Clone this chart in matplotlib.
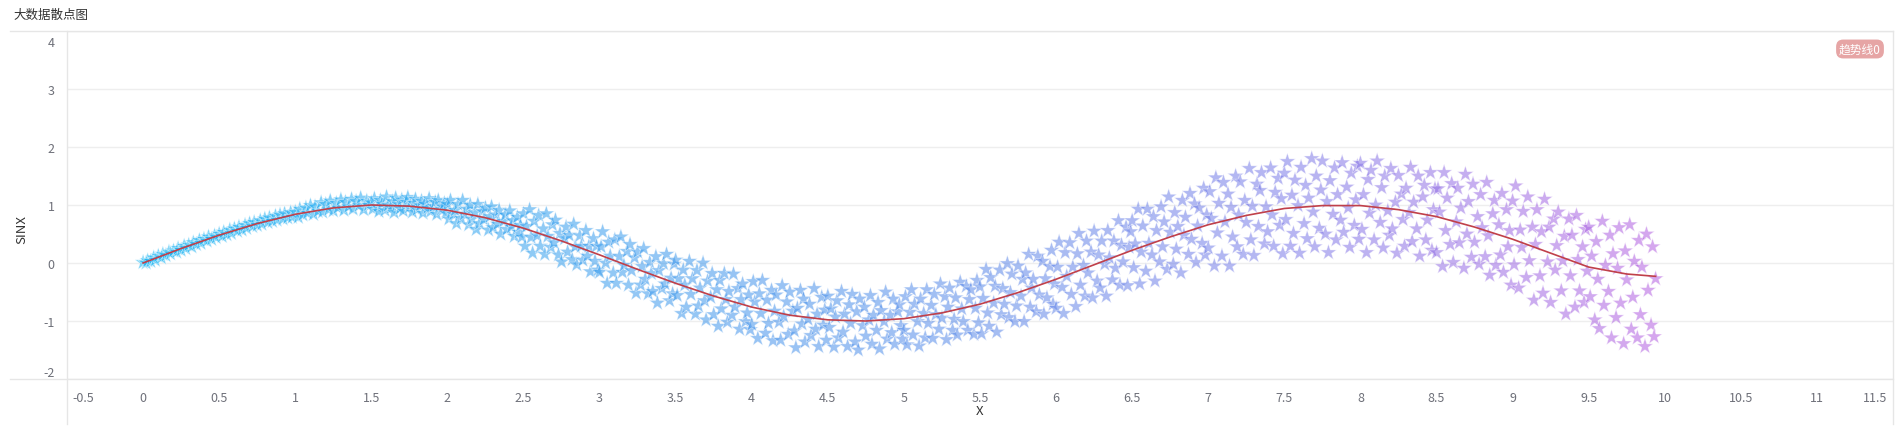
import matplotlib
matplotlib.use("Agg")
import matplotlib.pyplot as plt
import matplotlib.transforms as mtransforms
from matplotlib.colors import LinearSegmentedColormap
from matplotlib.lines import Line2D

plt.rcParams['font.family'] = ['Noto Sans CJK SC', 'DejaVu Sans']

TITLE = '大数据散点图'
LEGEND = '趋势线0'

# scatter points in strips of 0.5 on x (x row, then y row)
star_x = [
    0.00, 0.02, 0.03, 0.05, 0.07, 0.08, 0.10, 0.12, 0.13, 0.15, 0.17, 0.18, 0.20, 0.22, 0.23, 0.25, 0.27, 0.28, 0.30, 0.32, 0.33, 0.35, 0.37, 0.38, 0.40, 0.42, 0.43, 0.45, 0.47, 0.48,
    0.50, 0.52, 0.53, 0.55, 0.57, 0.58, 0.60, 0.62, 0.63, 0.65, 0.67, 0.68, 0.70, 0.72, 0.73, 0.75, 0.77, 0.78, 0.80, 0.82, 0.83, 0.85, 0.87, 0.88, 0.90, 0.92, 0.93, 0.95, 0.97, 0.98,
    1.00, 1.02, 1.03, 1.05, 1.07, 1.08, 1.10, 1.12, 1.13, 1.15, 1.17, 1.18, 1.20, 1.22, 1.23, 1.25, 1.27, 1.28, 1.30, 1.32, 1.33, 1.35, 1.37, 1.38, 1.40, 1.42, 1.43, 1.45, 1.47, 1.48,
    1.50, 1.51, 1.52, 1.54, 1.55, 1.56, 1.57, 1.59, 1.60, 1.61, 1.63, 1.64, 1.65, 1.66, 1.68, 1.69, 1.70, 1.71, 1.73, 1.74, 1.75, 1.77, 1.78, 1.79, 1.80, 1.82, 1.83, 1.84, 1.85, 1.87, 1.88, 1.89, 1.91, 1.92, 1.93, 1.94, 1.96, 1.97, 1.98, 1.99,
    2.00, 2.01, 2.02, 2.04, 2.05, 2.06, 2.07, 2.09, 2.10, 2.11, 2.13, 2.14, 2.15, 2.16, 2.18, 2.19, 2.20, 2.21, 2.23, 2.24, 2.25, 2.27, 2.28, 2.29, 2.30, 2.32, 2.33, 2.34, 2.35, 2.37, 2.38, 2.39, 2.41, 2.42, 2.43, 2.44, 2.46, 2.47, 2.48, 2.49,
    2.50, 2.51, 2.52, 2.54, 2.55, 2.56, 2.57, 2.59, 2.60, 2.61, 2.63, 2.64, 2.65, 2.66, 2.68, 2.69, 2.70, 2.71, 2.73, 2.74, 2.75, 2.77, 2.78, 2.79, 2.80, 2.82, 2.83, 2.84, 2.85, 2.87, 2.88, 2.89, 2.91, 2.92, 2.93, 2.94, 2.96, 2.97, 2.98, 2.99,
    3.00, 3.01, 3.02, 3.04, 3.05, 3.06, 3.07, 3.09, 3.10, 3.11, 3.13, 3.14, 3.15, 3.16, 3.18, 3.19, 3.20, 3.21, 3.23, 3.24, 3.25, 3.27, 3.28, 3.29, 3.30, 3.32, 3.33, 3.34, 3.35, 3.37, 3.38, 3.39, 3.41, 3.42, 3.43, 3.44, 3.46, 3.47, 3.48, 3.49,
    3.50, 3.51, 3.52, 3.54, 3.55, 3.56, 3.57, 3.59, 3.60, 3.61, 3.63, 3.64, 3.65, 3.66, 3.68, 3.69, 3.70, 3.71, 3.73, 3.74, 3.75, 3.77, 3.78, 3.79, 3.80, 3.82, 3.83, 3.84, 3.85, 3.87, 3.88, 3.89, 3.91, 3.92, 3.93, 3.94, 3.96, 3.97, 3.98, 3.99,
    4.00, 4.01, 4.02, 4.04, 4.05, 4.06, 4.07, 4.09, 4.10, 4.11, 4.13, 4.14, 4.15, 4.16, 4.18, 4.19, 4.20, 4.21, 4.23, 4.24, 4.25, 4.27, 4.28, 4.29, 4.30, 4.32, 4.33, 4.34, 4.35, 4.37, 4.38, 4.39, 4.41, 4.42, 4.43, 4.44, 4.46, 4.47, 4.48, 4.49,
    4.50, 4.51, 4.52, 4.54, 4.55, 4.56, 4.57, 4.59, 4.60, 4.61, 4.63, 4.64, 4.65, 4.66, 4.68, 4.69, 4.70, 4.71, 4.73, 4.74, 4.75, 4.77, 4.78, 4.79, 4.80, 4.82, 4.83, 4.84, 4.85, 4.87, 4.88, 4.89, 4.91, 4.92, 4.93, 4.94, 4.96, 4.97, 4.98, 4.99,
    5.00, 5.01, 5.02, 5.04, 5.05, 5.06, 5.07, 5.09, 5.10, 5.11, 5.13, 5.14, 5.15, 5.16, 5.18, 5.19, 5.20, 5.21, 5.23, 5.24, 5.25, 5.27, 5.28, 5.29, 5.30, 5.32, 5.33, 5.34, 5.35, 5.37, 5.38, 5.39, 5.41, 5.42, 5.43, 5.44, 5.46, 5.47, 5.48, 5.49,
    5.50, 5.51, 5.52, 5.54, 5.55, 5.56, 5.57, 5.59, 5.60, 5.61, 5.63, 5.64, 5.65, 5.66, 5.68, 5.69, 5.70, 5.71, 5.73, 5.74, 5.75, 5.77, 5.78, 5.79, 5.80, 5.82, 5.83, 5.84, 5.85, 5.87, 5.88, 5.89, 5.91, 5.92, 5.93, 5.94, 5.96, 5.97, 5.98, 5.99,
    6.00, 6.01, 6.02, 6.04, 6.05, 6.06, 6.07, 6.09, 6.10, 6.11, 6.13, 6.14, 6.15, 6.16, 6.18, 6.19, 6.20, 6.21, 6.23, 6.24, 6.25, 6.27, 6.28, 6.29, 6.30, 6.32, 6.33, 6.34, 6.35, 6.37, 6.38, 6.39, 6.41, 6.42, 6.43, 6.44, 6.46, 6.47, 6.48, 6.49,
    6.50, 6.51, 6.52, 6.54, 6.55, 6.56, 6.57, 6.59, 6.60, 6.61, 6.63, 6.64, 6.65, 6.66, 6.68, 6.69, 6.70, 6.71, 6.73, 6.74, 6.75, 6.77, 6.78, 6.79, 6.80, 6.82, 6.83, 6.84, 6.85, 6.87, 6.88, 6.89, 6.91, 6.92, 6.93, 6.94, 6.96, 6.97, 6.98, 6.99,
    7.00, 7.01, 7.02, 7.04, 7.05, 7.06, 7.07, 7.09, 7.10, 7.11, 7.13, 7.14, 7.15, 7.16, 7.18, 7.19, 7.20, 7.21, 7.23, 7.24, 7.25, 7.27, 7.28, 7.29, 7.30, 7.32, 7.33, 7.34, 7.35, 7.37, 7.38, 7.39, 7.41, 7.42, 7.43, 7.44, 7.46, 7.47, 7.48, 7.49,
    7.50, 7.51, 7.52, 7.54, 7.55, 7.56, 7.57, 7.59, 7.60, 7.61, 7.63, 7.64, 7.65, 7.66, 7.68, 7.69, 7.70, 7.71, 7.73, 7.74, 7.75, 7.77, 7.78, 7.79, 7.80, 7.82, 7.83, 7.84, 7.85, 7.87, 7.88, 7.89, 7.91, 7.92, 7.93, 7.94, 7.96, 7.97, 7.98, 7.99,
    8.00, 8.01, 8.02, 8.04, 8.05, 8.06, 8.07, 8.09, 8.10, 8.11, 8.13, 8.14, 8.15, 8.16, 8.18, 8.19, 8.20, 8.21, 8.23, 8.24, 8.25, 8.27, 8.28, 8.29, 8.30, 8.32, 8.33, 8.34, 8.35, 8.37, 8.38, 8.39, 8.41, 8.42, 8.43, 8.44, 8.46, 8.47, 8.48, 8.49,
    8.50, 8.51, 8.52, 8.54, 8.55, 8.56, 8.57, 8.59, 8.60, 8.61, 8.63, 8.64, 8.65, 8.66, 8.68, 8.69, 8.70, 8.71, 8.73, 8.74, 8.75, 8.77, 8.78, 8.79, 8.80, 8.82, 8.83, 8.84, 8.85, 8.87, 8.88, 8.89, 8.91, 8.92, 8.93, 8.94, 8.96, 8.97, 8.98, 8.99,
    9.00, 9.01, 9.02, 9.04, 9.05, 9.06, 9.07, 9.09, 9.10, 9.11, 9.13, 9.14, 9.15, 9.16, 9.18, 9.19, 9.20, 9.21, 9.23, 9.24, 9.25, 9.27, 9.28, 9.29, 9.30, 9.32, 9.33, 9.34, 9.35, 9.37, 9.38, 9.39, 9.41, 9.42, 9.43, 9.44, 9.46, 9.47, 9.48, 9.49,
    9.50, 9.51, 9.52, 9.54, 9.55, 9.56, 9.57, 9.59, 9.60, 9.61, 9.63, 9.64, 9.65, 9.66, 9.68, 9.69, 9.70, 9.71, 9.73, 9.74, 9.75, 9.77, 9.78, 9.79, 9.80, 9.82, 9.83, 9.84, 9.85, 9.87, 9.88, 9.89, 9.91, 9.92, 9.93, 9.94,
]
star_y = [
    0.01, 0.00, 0.04, 0.03, 0.09, 0.05, 0.12, 0.09, 0.15, 0.13, 0.19, 0.16, 0.21, 0.19, 0.25, 0.22, 0.29, 0.25, 0.31, 0.28, 0.35, 0.32, 0.39, 0.34, 0.41, 0.38, 0.45, 0.41, 0.47, 0.44,
    0.50, 0.46, 0.53, 0.49, 0.57, 0.51, 0.59, 0.55, 0.62, 0.57, 0.65, 0.60, 0.68, 0.63, 0.70, 0.65, 0.73, 0.67, 0.76, 0.70, 0.78, 0.72, 0.81, 0.74, 0.83, 0.76, 0.85, 0.78, 0.87, 0.79,
    0.88, 0.79, 0.93, 0.83, 0.95, 0.86, 0.99, 0.84, 0.97, 0.89, 1.04, 0.88, 1.01, 0.92, 1.07, 0.90, 1.03, 0.95, 1.09, 0.91, 1.05, 0.97, 1.10, 0.93, 1.06, 0.99, 1.12, 0.92, 1.07, 1.00,
    1.04, 0.93, 1.11, 0.97, 0.89, 1.08, 1.02, 0.91, 1.14, 0.99, 0.95, 1.06, 0.87, 1.12, 1.01, 0.94, 1.09, 0.90, 1.05, 1.13, 0.96, 0.88, 1.03, 1.10, 0.92, 0.99, 1.07, 0.86, 1.02, 0.95, 1.11, 0.89, 0.98, 1.05, 0.84, 1.08, 0.93, 0.97, 1.03, 0.86,
    1.01, 0.76, 1.08, 0.84, 0.91, 0.68, 1.01, 0.77, 1.08, 0.84, 0.93, 0.66, 1.00, 0.76, 0.87, 0.58, 1.01, 0.68, 0.89, 0.75, 0.95, 0.57, 0.80, 0.97, 0.61, 0.83, 0.67, 0.91, 0.50, 0.72, 0.83, 0.58, 0.90, 0.62, 0.73, 0.46, 0.79, 0.53, 0.65, 0.45,
    0.85, 0.29, 0.63, 0.92, 0.44, 0.17, 0.72, 0.47, 0.82, 0.29, 0.59, 0.15, 0.85, 0.46, 0.27, 0.66, 0.35, 0.74, 0.14, 0.51, 0.02, 0.42, 0.62, 0.19, 0.48, 0.06, 0.67, 0.28, -0.03, 0.47, 0.29, 0.05, 0.56, 0.12, 0.29, -0.15, 0.42, 0.03, 0.29, -0.12,
    -0.16, 0.28, 0.54, 0.00, -0.35, 0.36, 0.12, -0.17, 0.40, -0.35, 0.11, 0.45, -0.16, -0.04, 0.20, -0.38, 0.32, -0.13, 0.09, -0.52, 0.19, -0.38, -0.06, 0.25, -0.28, -0.53, 0.01, -0.18, -0.49, 0.11, -0.69, -0.13, -0.44, -0.01, -0.36, 0.15, -0.65, -0.26, -0.53, -0.02,
    0.05, -0.56, -0.27, -0.87, -0.12, -0.38, -0.76, 0.03, -0.54, -0.27, -0.88, -0.13, -0.74, -0.43, 0.00, -0.65, -0.98, -0.31, -0.59, -0.18, -0.89, -0.46, -1.09, -0.30, -0.79, -0.18, -0.63, -1.02, -0.49, -0.90, -0.19, -0.76, -0.44, -1.14, -0.63, -0.36, -1.01, -0.86, -0.55, -1.15,
    -1.06, -0.32, -0.67, -1.30, -0.53, -0.87, -0.30, -1.21, -0.64, -1.04, -0.47, -1.34, -0.83, -0.55, -1.02, -1.33, -0.39, -0.92, -0.67, -1.23, -0.50, -0.83, -1.17, -1.46, -0.78, -0.47, -1.05, -0.62, -1.36, -0.97, -0.71, -1.25, -0.44, -1.14, -0.88, -1.44, -0.59, -1.07, -0.81, -1.33,
    -0.57, -1.11, -0.79, -1.45, -0.93, -0.65, -1.29, -0.49, -1.19, -0.88, -1.44, -0.72, -1.04, -0.54, -1.36, -0.84, -1.50, -0.62, -1.08, -0.76, -1.26, -0.98, -0.56, -1.40, -0.90, -1.16, -0.68, -1.48, -0.82, -1.01, -0.50, -1.31, -0.90, -1.20, -0.62, -1.40, -0.84, -0.72, -1.08, -1.31,
    -1.16, -0.58, -1.41, -0.85, -0.46, -1.24, -0.71, -1.01, -1.43, -0.62, -0.87, -1.29, -0.46, -1.04, -0.73, -1.30, -0.54, -0.89, -1.14, -0.36, -0.95, -0.58, -1.32, -0.76, -0.43, -1.16, -0.97, -0.60, -1.24, -0.33, -0.79, -1.01, -0.40, -1.16, -0.63, -0.46, -1.23, -0.78, -0.30, -1.03,
    -0.41, -1.22, -0.61, -0.11, -0.86, -1.09, -0.25, -0.69, -0.40, -1.19, -0.12, -0.89, -0.44, -0.71, -0.01, -0.94, -0.51, -0.19, -1.01, -0.74, -0.05, -0.57, -0.28, -1.01, -0.17, 0.15, -0.76, -0.43, -0.28, -0.84, 0.12, -0.55, 0.03, -0.88, -0.27, -0.60, -0.06, 0.22, -0.71, -0.36,
    -0.78, -0.07, 0.36, -0.42, -0.87, 0.18, -0.23, 0.35, -0.54, -0.07, -0.75, 0.16, 0.51, -0.38, -0.04, -0.57, 0.38, -0.17, 0.19, -0.60, 0.55, -0.31, 0.14, -0.43, 0.38, -0.02, -0.57, 0.56, 0.09, -0.29, 0.38, -0.09, 0.73, -0.38, 0.31, 0.02, 0.62, -0.39, 0.27, 0.54,
    0.73, -0.08, 0.33, 0.93, -0.36, 0.19, 0.64, -0.14, 0.93, 0.34, 0.14, 0.80, -0.31, 0.56, 0.02, 0.97, 0.28, 0.71, -0.11, 1.14, 0.53, -0.02, 0.87, 0.24, 0.63, -0.17, 1.08, 0.48, 0.79, 0.15, 1.20, 0.41, 1.02, 0.01, 0.64, 0.95, 0.34, 1.29, 0.14, 0.83,
    0.26, 1.23, 0.77, -0.05, 1.47, 0.52, 1.03, 0.12, 1.39, 0.71, 1.19, -0.05, 0.96, 0.45, 1.50, 0.28, 0.83, 1.40, 0.15, 1.08, 0.70, 1.63, 0.40, 0.98, 0.13, 1.36, 0.63, 1.25, 1.56, 0.33, 0.97, 0.54, 1.64, 0.83, 0.29, 1.22, 1.46, 0.65, 1.11, 0.16,
    1.55, 0.75, 1.75, 0.29, 1.17, 0.51, 1.43, 0.99, 0.17, 1.65, 0.68, 1.34, 0.42, 1.12, 1.80, 0.88, 0.28, 1.50, 0.60, 1.26, 1.76, 0.50, 1.06, 0.18, 1.42, 0.84, 1.64, 0.40, 1.18, 0.74, 1.73, 0.53, 1.31, 0.95, 0.27, 1.55, 0.65, 1.09, 1.67, 0.41,
    1.72, 0.58, 1.18, 0.18, 1.44, 0.86, 1.60, 0.40, 1.00, 1.76, 0.70, 1.30, 0.26, 1.50, 0.90, 0.48, 1.63, 0.59, 1.05, 0.17, 1.51, 1.19, 0.75, 0.29, 1.29, 0.87, 1.65, 0.37, 1.05, 0.59, 1.50, 0.12, 1.14, 1.34, 0.40, 0.74, 1.56, 0.22, 0.92, 1.28,
    0.18, 1.28, 0.88, -0.06, 1.56, 0.56, 1.12, 0.32, 1.37, 0.01, 0.71, 1.29, 0.35, 0.95, -0.09, 1.53, 0.50, 1.06, 0.10, 1.36, 0.36, 0.80, -0.02, 1.18, 0.61, 0.11, 1.39, 0.47, -0.21, 0.85, 1.08, -0.04, 0.66, 0.14, 1.20, -0.16, 0.92, 0.28, 0.56, -0.38,
    1.07, -0.03, 1.33, -0.43, 0.57, 0.27, 0.89, -0.25, 1.14, 0.04, 0.62, -0.64, 0.32, 0.92, -0.22, 0.54, -0.52, 1.10, 0.02, 0.62, -0.68, 0.76, -0.12, 0.30, 0.88, -0.48, 0.04, 0.46, -0.88, 0.76, -0.22, 0.48, -0.76, 0.82, 0.06, -0.48, 0.28, -0.68, 0.58, -0.14,
    0.62, -0.58, 0.12, -0.98, 0.37, -0.28, -1.13, 0.72, -0.73, -0.04, -0.49, 0.48, -1.29, 0.16, -0.94, -0.09, 0.61, -0.69, -1.39, 0.21, -0.29, 0.66, -1.14, -0.59, 0.03, -1.29, 0.39, -0.89, -0.07, -1.44, 0.50, -0.47, -1.07, 0.28, -1.27, -0.27,
]

# trend line
line_x = [0.0, 0.25, 0.5, 0.75, 1.0, 1.25, 1.5, 1.75, 2.0, 2.25, 2.5, 2.75, 3.0, 3.25, 3.5, 3.75, 4.0, 4.25, 4.5, 4.75,
          5.0, 5.25, 5.5, 5.75, 6.0, 6.25, 6.5, 6.75, 7.0, 7.25, 7.5, 7.75, 8.0, 8.25, 8.5, 8.75, 9.0, 9.25, 9.5, 9.75, 9.94]
line_y = [0.0, 0.25, 0.48, 0.68, 0.84, 0.95, 1.0, 0.98, 0.91, 0.78, 0.6, 0.38, 0.14, -0.11, -0.35, -0.57, -0.76, -0.9, -0.98, -1.0,
          -0.96, -0.86, -0.71, -0.51, -0.28, -0.03, 0.22, 0.45, 0.66, 0.82, 0.94, 0.99, 0.99, 0.92, 0.8, 0.62, 0.41, 0.17, -0.07, -0.19, -0.23]

x_ticks = [-0.5, 0, 0.5, 1, 1.5, 2, 2.5, 3, 3.5, 4, 4.5, 5, 5.5, 6, 6.5, 7, 7.5, 8, 8.5, 9, 9.5, 10, 10.5, 11, 11.5]
y_ticks = [-2, -1, 0, 1, 2, 3, 4]

W, H = 1902, 431
fig = plt.figure(figsize=(W / 100, H / 100), dpi=100)
L, R, T, B = 67, 1893, 32, 380
ax = fig.add_axes([L / W, 1 - B / H, (R - L) / W, (B - T) / H])

cmap = LinearSegmentedColormap.from_list(
    'grad', [(0.0, '#12b4f4'), (0.45, '#4a90ea'), (0.75, '#7a7ae8'), (1.0, '#b55ee0')])
ax.scatter(star_x, star_y, c=star_x, cmap=cmap, vmin=0, vmax=10, marker='*', s=150,
           alpha=0.55, edgecolors='white', linewidths=0.5, zorder=2)
ax.plot(line_x, line_y, color='#c0404a', lw=1.2, zorder=3)

ax.set_xlim(-0.5, 11.5)
ax.set_ylim(-2, 4)
ax.set_xticks(x_ticks)
ax.set_xticklabels(['%g' % v for v in x_ticks])
ax.set_yticks(y_ticks)
ax.set_yticklabels([str(v) for v in y_ticks])
ax.tick_params(length=0, labelsize=9, labelcolor='#6e7079')
ax.tick_params(axis='x', pad=9)
ax.tick_params(axis='y', pad=9)
for s in ax.spines.values():
    s.set_visible(False)
ax.grid(axis='y', color='#eeeeee', lw=1)
ax.set_axisbelow(True)

# edge labels sit inside the axis ends
xl = ax.get_xticklabels()
xl[0].set_ha('left')
xl[0].set_transform(xl[0].get_transform() + mtransforms.ScaledTranslation(5 / 100, 0, fig.dpi_scale_trans))
xl[-1].set_ha('right')
xl[-1].set_transform(xl[-1].get_transform() + mtransforms.ScaledTranslation(-6 / 100, 0, fig.dpi_scale_trans))
yl = ax.get_yticklabels()
yl[0].set_va('bottom')
yl[-1].set_va('top')
yl[-1].set_transform(yl[-1].get_transform() + mtransforms.ScaledTranslation(0, -5 / 100, fig.dpi_scale_trans))

# frame lines
lc = '#e6e6e6'
fig.add_artist(Line2D([10 / W, R / W], [1 - T / H, 1 - T / H], color=lc, lw=1))
fig.add_artist(Line2D([10 / W, R / W], [1 - B / H, 1 - B / H], color=lc, lw=1))
fig.add_artist(Line2D([L / W, L / W], [1 - T / H, 1 - 425 / H], color=lc, lw=1))
fig.add_artist(Line2D([R / W, R / W], [1 - T / H, 1 - 425 / H], color=lc, lw=1))

fig.text(13 / W, 1 - 15 / H, TITLE, fontsize=9, color='#333333', va='center', ha='left')
fig.text(980 / W, 1 - 412 / H, 'X', fontsize=9.5, color='#333333', va='center', ha='center')
fig.text(22 / W, 1 - 230 / H, 'SINX', fontsize=9.5, color='#333333', va='center', ha='center', rotation=90)
fig.text(1860 / W, 1 - 50 / H, LEGEND, fontsize=8.5, color='white', va='center', ha='center',
         bbox=dict(boxstyle='round,pad=0.25,rounding_size=0.6', fc='#e6a5a5', ec='none'))

fig.savefig('out.png', dpi=100)
